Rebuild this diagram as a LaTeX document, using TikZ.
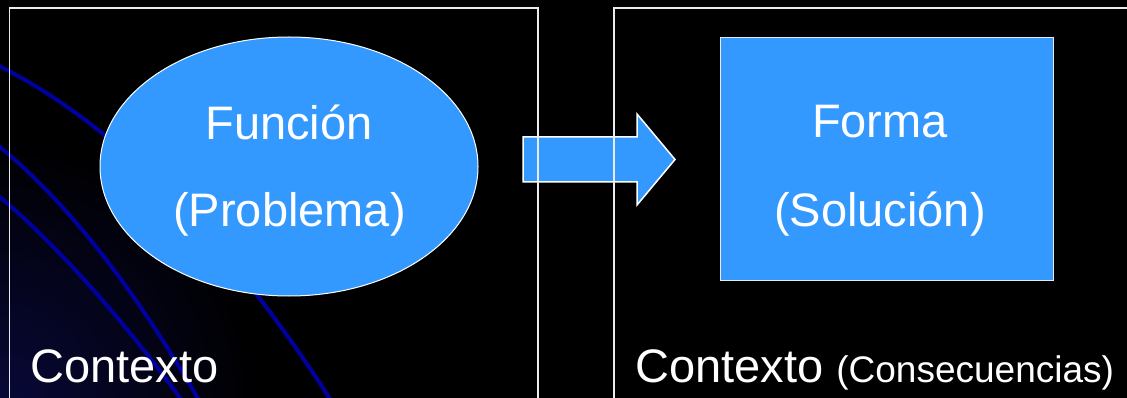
\documentclass[tikz,border=0pt]{standalone}
\usepackage{fontspec}
\setmainfont{Liberation Sans}
\usetikzlibrary{shapes.geometric}
\definecolor{skyfill}{HTML}{3399FF}
\definecolor{curveblue}{HTML}{0000A0}
\definecolor{glow}{RGB}{8,8,56}
\definecolor{framegray}{RGB}{235,235,235}
\begin{document}
\begin{tikzpicture}[x=1pt,y=-1pt,
  bigtext/.style={text=white, font=\fontsize{47}{56}\selectfont, inner sep=0pt},
  frame/.style={draw=framegray, line width=1.6pt},
  decocurve/.style={draw=curveblue, line width=4pt},
  bluebox/.style={fill=skyfill, draw=white, line width=1pt, inner sep=0pt}]
\useasboundingbox (0,0) rectangle (1127,398);
\fill[black] (0,0) rectangle (1127,398);
\begin{scope}
  \clip (0,0) rectangle (1127,398);
  % soft glow in the lower left corner
  \shade[inner color=glow, outer color=black] (0,398) circle (260pt);
  % decorative curves
  \draw[decocurve] (-5,64) .. controls (120,125) and (235,250) .. (332,402);
  \draw[decocurve] (-5,143) .. controls (60,195) and (130,280) .. (200,402);
  \draw[decocurve] (-5,193) .. controls (50,238) and (120,315) .. (183,402);
  % problem ellipse
  \node[bluebox, ellipse, minimum width=378pt, minimum height=259pt] (func) at (289,166.5) {};
  % block arrow
  \filldraw[fill=skyfill, draw=white, line width=1.5pt, line join=miter]
    (523,137) -- (637,137) -- (637,114) -- (675,159.5) -- (637,205) -- (637,182) -- (523,182) -- cycle;
  % context frames
  \draw[frame] (9.5,420) |- (538,8) -- (538,420);
  \draw[frame] (614,420) |- (1140,8);
\end{scope}
% solution rectangle
\node[bluebox, draw=framegray, rectangle, minimum width=333pt, minimum height=242pt] (form) at (886.5,159) {};
% labels
\node[bigtext, anchor=base] (funcA) at (289,140) {Función};
\node[bigtext, anchor=base] (funcB) at (289.5,227) {(Problema)};
\node[bigtext, anchor=base] (formA) at (880,138) {Forma};
\node[bigtext, anchor=base] (formB) at (880,227) {(Solución)};
\node[bigtext, anchor=base west] (ctxL) at (30,382) {Contexto};
\node[bigtext, anchor=base west] (ctxR) at (635,382) {Contexto {\fontsize{37}{44}\selectfont(Consecuencias)}};
\end{tikzpicture}
\end{document}
